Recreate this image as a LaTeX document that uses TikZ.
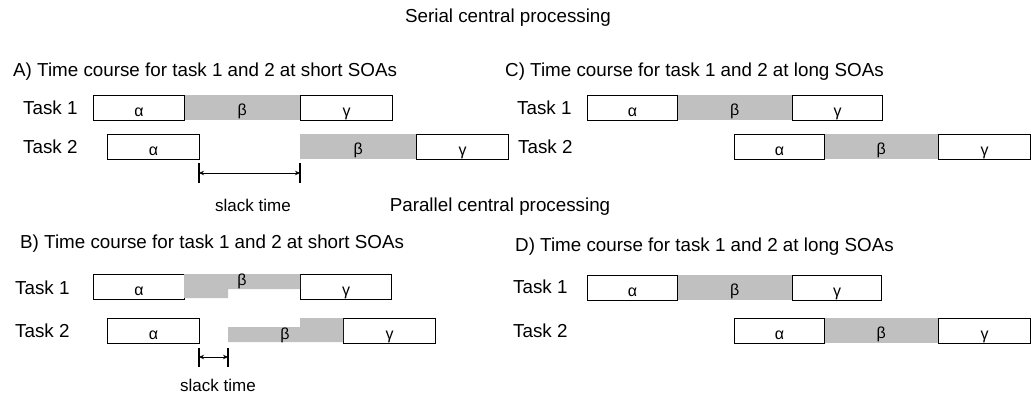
\documentclass[tikz,border=0pt]{standalone}
\usepackage{fontspec}
\setmainfont{Liberation Sans}
\usetikzlibrary{arrows.meta}
\definecolor{betagray}{RGB}{192,192,192}
\tikzset{
  lbl/.style={font=\fontsize{18.8}{21}\selectfont, inner sep=0pt, anchor=base west},
  ttl/.style={font=\fontsize{18.8}{21}\selectfont, inner sep=0pt, anchor=base},
  slk/.style={font=\fontsize{17}{19}\selectfont, inner sep=0pt, anchor=base},
  phase/.style={draw, line width=1.1pt, fill=white, minimum height=25pt, inner sep=0pt,
    anchor=north west, font=\fontsize{16}{18}\selectfont, text height=16.5pt, text depth=0pt},
  gphase/.style={fill=betagray, minimum height=25pt, inner sep=0pt,
    anchor=north west, font=\fontsize{16}{18}\selectfont, text height=16.5pt, text depth=0pt},
  glab/.style={font=\fontsize{16}{18}\selectfont, inner sep=0pt, anchor=base},
  slackarr/.style={line width=0.9pt, {Stealth[length=5pt,width=4.5pt]}-{Stealth[length=5pt,width=4.5pt]}},
  tick/.style={line width=1.1pt},
}
\begin{document}
\begin{tikzpicture}[x=1pt,y=-1pt]
\useasboundingbox (0,0) rectangle (1031,396);
\clip (0,0) rectangle (1031,396);

% titles
\node[ttl] (serial) at (508,22.5) {Serial central processing};
\node[ttl] (parallel) at (500,211) {Parallel central processing};

% ---------- A ----------
\node[lbl] (Ahead) at (13,77) {A) Time course for task 1 and 2 at short SOAs};
\node[lbl] (At1) at (23,114.5) {Task 1};
\node[lbl] (At2) at (23,153.5) {Task 2};
\node[gphase, minimum width=116pt] (A1b) at (184,95) {β};
\node[phase, minimum width=91pt] (A1a) at (93,95) {α};
\node[phase, minimum width=92pt] (A1g) at (300,95) {γ};
\node[gphase, minimum width=116pt] (A2b) at (300,134) {β};
\node[phase, minimum width=92pt] (A2a) at (107,134) {α};
\node[phase, minimum width=92pt] (A2g) at (416,134) {γ};
\coordinate (As1) at (199,173);
\coordinate (As2) at (300,173);
\draw[tick] (As1) ++(0,-10) -- ++(0,20);
\draw[tick] (As2) ++(0,-10) -- ++(0,20);
\draw[slackarr] (As1) -- (As2);
\node[slk] (Aslack) at (253,211) {slack time};

% ---------- C ----------
\node[lbl] (Chead) at (505,77) {C) Time course for task 1 and 2 at long SOAs};
\node[lbl] (Ct1) at (517,114.5) {Task 1};
\node[lbl] (Ct2) at (518,153.5) {Task 2};
\node[gphase, minimum width=115pt] (C1b) at (677,95) {β};
\node[phase, minimum width=90pt] (C1a) at (587,95) {α};
\node[phase, minimum width=90pt] (C1g) at (792,95) {γ};
\node[gphase, minimum width=114pt] (C2b) at (824,134) {β};
\node[phase, minimum width=90pt] (C2a) at (734,134) {α};
\node[phase, minimum width=92pt] (C2g) at (938,134) {γ};

% ---------- B ----------
\node[lbl] (Bhead) at (20,248) {B) Time course for task 1 and 2 at short SOAs};
\node[lbl] (Bt1) at (15,294) {Task 1};
\node[lbl] (Bt2) at (15,337) {Task 2};
\node[phase, minimum width=91pt] (B1a) at (93,274) {α};
\node[phase, minimum width=91pt] (B1g) at (300,274) {γ};
\fill[betagray] (184,274) -- (300,274) -- (300,289) -- (228,289) -- (228,298) -- (184,298) -- cycle;
\node[glab] (B1b) at (242,285) {β};
\node[phase, minimum width=92pt] (B2a) at (107,318) {α};
\node[phase, minimum width=92pt] (B2g) at (343,318) {γ};
\fill[betagray] (228,327) -- (300,327) -- (300,318) -- (343,318) -- (343,342) -- (228,342) -- cycle;
\node[glab] (B2b) at (285,339) {β};
\coordinate (Bs1) at (199,357);
\coordinate (Bs2) at (228,357);
\draw[tick] (Bs1) ++(0,-9.5) -- ++(0,19);
\draw[tick] (Bs2) ++(0,-9.5) -- ++(0,19);
\draw[slackarr] (Bs1) -- (Bs2);
\node[slk] (Bslack) at (218,391) {slack time};

% ---------- D ----------
\node[lbl] (Dhead) at (515,251) {D) Time course for task 1 and 2 at long SOAs};
\node[lbl] (Dt1) at (513,293) {Task 1};
\node[lbl] (Dt2) at (513,337) {Task 2};
\node[gphase, minimum width=115pt] (D1b) at (677,275) {β};
\node[phase, minimum width=90pt] (D1a) at (587,275) {α};
\node[phase, minimum width=89pt] (D1g) at (792,275) {γ};
\node[gphase, minimum width=114pt] (D2b) at (824,318) {β};
\node[phase, minimum width=90pt] (D2a) at (734,318) {α};
\node[phase, minimum width=92pt] (D2g) at (938,318) {γ};
\end{tikzpicture}
\end{document}
